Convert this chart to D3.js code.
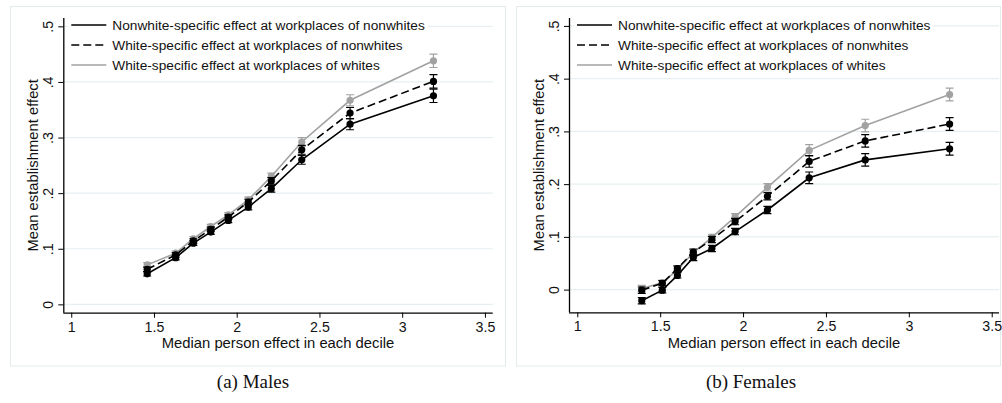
<!DOCTYPE html>
<html>
<head>
<meta charset="utf-8">
<script src="https://cdn.jsdelivr.net/npm/d3@7"></script>
<style>
  body { margin: 0; background: #fff; }
  svg { display: block; }
</style>
</head>
<body>
<script>
// ---- data ----
const seriesNames = [
  "Nonwhite-specific effect at workplaces of nonwhites",
  "White-specific effect at workplaces of nonwhites",
  "White-specific effect at workplaces of whites"
];

// males: median person effect per decile
const maleX = [1.459, 1.631, 1.738, 1.843, 1.949, 2.07, 2.209, 2.393, 2.685, 3.189];
const maleNonwhiteAtNonwhite = [0.055, 0.084, 0.110, 0.130, 0.151, 0.175, 0.208, 0.260, 0.324, 0.375];
const maleWhiteAtNonwhite = [0.063, 0.089, 0.114, 0.135, 0.157, 0.184, 0.222, 0.278, 0.344, 0.401];
const maleWhiteAtWhite = [0.071, 0.092, 0.118, 0.140, 0.161, 0.188, 0.230, 0.292, 0.367, 0.438];
const maleCI = [0.004, 0.004, 0.004, 0.004, 0.004, 0.005, 0.006, 0.008, 0.010, 0.012];

// females
const femaleX = [1.389, 1.513, 1.604, 1.70, 1.812, 1.952, 2.147, 2.399, 2.737, 3.246];
const femaleNonwhiteAtNonwhite = [-0.021, -0.001, 0.027, 0.061, 0.078, 0.110, 0.151, 0.212, 0.246, 0.267];
const femaleWhiteAtNonwhite = [-0.001, 0.012, 0.040, 0.071, 0.095, 0.129, 0.177, 0.243, 0.282, 0.314];
const femaleWhiteAtWhite = [0.002, 0.013, 0.038, 0.070, 0.099, 0.138, 0.194, 0.264, 0.311, 0.370];
const femaleCI = [0.006, 0.005, 0.005, 0.006, 0.006, 0.006, 0.007, 0.011, 0.012, 0.012];

const xTicks = [1, 1.5, 2, 2.5, 3, 3.5];
const yTicks = [0, 0.1, 0.2, 0.3, 0.4, 0.5];
const yTickLabels = ["0", ".1", ".2", ".3", ".4", ".5"];

const width = 1002, height = 403;
const font = "'Liberation Sans', Arial, sans-serif";
const gray = "#a2a2a2";
const gridColor = "#e6eff1";
const frameColor = "#e3ebed";

const svg = d3.select("body").append("svg")
  .attr("width", width)
  .attr("height", height)
  .attr("font-family", font);

const styles = [
  { color: "#000", dash: null },
  { color: "#000", dash: "8,4" },
  { color: gray, dash: null }
];

function panel({ frame, xRange, yRange, xDomain, yDomain, xs, series, ci, caption }) {
  const g = svg.append("g");

  g.append("rect")
    .attr("x", frame[0] + 0.5).attr("y", frame[1] + 0.5)
    .attr("width", frame[2]).attr("height", frame[3])
    .attr("fill", "#fff").attr("stroke", frameColor);

  const x = d3.scaleLinear().domain(xDomain).range(xRange);
  const y = d3.scaleLinear().domain(yDomain).range(yRange);

  // gridlines
  g.append("g")
    .selectAll("line")
    .data(yTicks)
    .join("line")
    .attr("x1", xRange[0]).attr("x2", xRange[1])
    .attr("y1", (d) => y(d)).attr("y2", (d) => y(d))
    .attr("stroke", gridColor).attr("stroke-width", 1.2);

  // legend (white box drawn over the top gridline)
  const lx = xRange[0] + 8;
  const legend = g.append("g");
  const lbg = legend.append("rect").attr("fill", "#fff");
  let maxW = 0;
  seriesNames.forEach((name, i) => {
    const cy = 25 + i * 20;
    legend.append("line")
      .attr("x1", lx).attr("x2", lx + 35)
      .attr("y1", cy).attr("y2", cy)
      .attr("stroke", styles[i].color)
      .attr("stroke-width", 1.6)
      .attr("stroke-dasharray", styles[i].dash);
    const t = legend.append("text")
      .attr("x", lx + 41).attr("y", cy + 5)
      .attr("font-size", 13.7)
      .attr("fill", "#111")
      .text(name);
    maxW = Math.max(maxW, t.node().getComputedTextLength());
  });
  lbg.attr("x", lx - 3).attr("y", 15).attr("width", maxW + 47).attr("height", 60);

  // axes
  const yAxis = d3.axisLeft(y).tickValues(yTicks)
    .tickFormat((d, i) => yTickLabels[i]).tickSize(5).tickPadding(10);
  const ya = g.append("g").attr("transform", `translate(${xRange[0]},0)`).call(yAxis);
  ya.select(".domain").attr("d", `M0.5,${yRange[1]}V${yRange[0]}`).attr("stroke-width", 1.3);
  ya.selectAll(".tick line").attr("stroke-width", 1);
  ya.selectAll(".tick text")
    .attr("font-size", 14.2).attr("font-family", font).attr("fill", "#111")
    .attr("x", null).attr("dy", null)
    .attr("text-anchor", "middle")
    .attr("transform", "translate(-10,0) rotate(-90)");

  const xAxis = d3.axisBottom(x).tickValues(xTicks)
    .tickFormat(d3.format("")).tickSize(5).tickPadding(4);
  const xa = g.append("g").attr("transform", `translate(0,${yRange[0]})`).call(xAxis);
  xa.select(".domain").attr("d", `M${xRange[0]},0.5H${xRange[1]}`).attr("stroke-width", 1.3);
  xa.selectAll(".tick text")
    .attr("font-size", 14.2).attr("font-family", font).attr("fill", "#111");

  g.append("text")
    .attr("transform", `translate(${xRange[0] - 25.5},${(yRange[0] + yRange[1]) / 2}) rotate(-90)`)
    .attr("text-anchor", "middle")
    .attr("font-size", 14.8).attr("fill", "#111")
    .text("Mean establishment effect");

  g.append("text")
    .attr("x", (xRange[0] + xRange[1]) / 2).attr("y", yRange[0] + 35.5)
    .attr("text-anchor", "middle")
    .attr("font-size", 14.8).attr("fill", "#111")
    .text("Median person effect in each decile");

  // data: draw grey first so black sits on top
  [2, 1, 0].forEach((si) => {
    const vals = series[si];
    const pts = xs.map((xv, i) => ({ x: xv, y: vals[i], ci: ci[i] }));
    const s = styles[si];
    const sg = g.append("g");

    sg.append("path")
      .datum(pts)
      .attr("fill", "none")
      .attr("stroke", s.color)
      .attr("stroke-width", 1.6)
      .attr("stroke-dasharray", s.dash)
      .attr("d", d3.line().x((d) => x(d.x)).y((d) => y(d.y)));

    const bars = sg.append("g").attr("stroke", s.color).attr("stroke-width", 1.2);
    bars.selectAll("path")
      .data(pts)
      .join("path")
      .attr("fill", "none")
      .attr("d", (d) => {
        const cx = x(d.x), y0 = y(d.y - d.ci), y1 = y(d.y + d.ci);
        return `M${cx - 4},${y0}H${cx + 4}M${cx},${y0}V${y1}M${cx - 4},${y1}H${cx + 4}`;
      });

    sg.selectAll("circle")
      .data(pts)
      .join("circle")
      .attr("cx", (d) => x(d.x))
      .attr("cy", (d) => y(d.y))
      .attr("r", 3.6)
      .attr("fill", s.color);
  });

  svg.append("text")
    .attr("x", caption.x).attr("y", 388)
    .attr("text-anchor", "middle")
    .attr("font-family", "'Liberation Serif', 'DejaVu Serif', serif")
    .attr("font-size", 19).attr("fill", "#111")
    .text(caption.text);
}

panel({
  frame: [10, 6, 495, 359.5],
  xRange: [63.3, 492.7],
  yRange: [312.7, 18],
  xDomain: [0.952, 3.547],
  yDomain: [-0.015, 0.515],
  xs: maleX,
  series: [maleNonwhiteAtNonwhite, maleWhiteAtNonwhite, maleWhiteAtWhite],
  ci: maleCI,
  caption: { x: 253, text: "(a) Males" }
});

panel({
  frame: [516, 6, 484, 359.5],
  xRange: [569, 999],
  yRange: [312.3, 18],
  xDomain: [0.95, 3.544],
  yDomain: [-0.043, 0.515],
  xs: femaleX,
  series: [femaleNonwhiteAtNonwhite, femaleWhiteAtNonwhite, femaleWhiteAtWhite],
  ci: femaleCI,
  caption: { x: 751, text: "(b) Females" }
});
</script>
</body>
</html>
